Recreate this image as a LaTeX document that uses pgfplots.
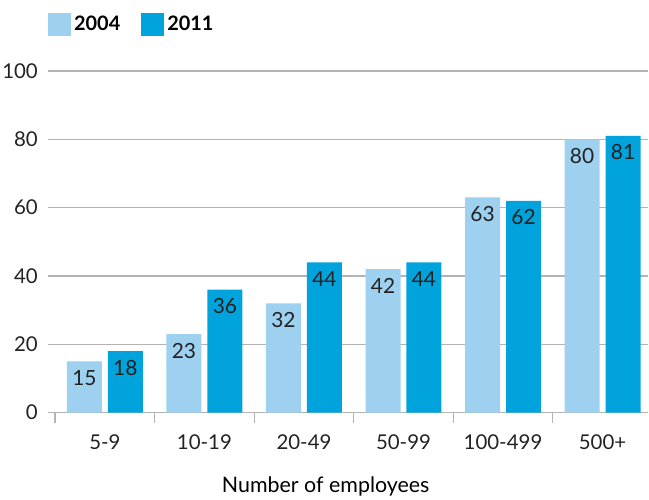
\documentclass[border=0pt]{standalone}
\usepackage{pgfplots}
\pgfplotsset{compat=1.18}
\usepackage{fontspec}
\setmainfont{Lato}
\definecolor{c04}{HTML}{9DD1EF}
\definecolor{c11}{HTML}{00A3DB}
\definecolor{gridc}{HTML}{B4B4B4}
\definecolor{txt}{HTML}{222222}
\begin{document}
\begin{tikzpicture}
\begin{axis}[
  scale only axis, width=601bp, height=342bp,
  xmin=-0.572, xmax=5.46, ymin=0, ymax=100,
  ybar=6bp, bar width=35bp,
  axis x line*=bottom, axis y line*=left,
  y axis line style={draw=none},
  x axis line style={draw=gridc, line width=1.3bp},
  ytick={0,20,...,100}, ymajorgrids,
  major grid style={draw=gridc, line width=1.3bp},
  major tick length=0pt,
  xtick={0,...,5},
  xticklabels={5-9,10-19,20-49,50-99,100-499,500+},
  extra x ticks={-0.5,0.5,1.5,2.5,3.5,4.5},
  extra x tick labels={},
  extra x tick style={major tick length=10bp, tick align=outside, tick style={draw=gridc, line width=1.3bp}},
  ticklabel style={font=\fontsize{20.5}{24}\selectfont, text=txt},
  yticklabel style={anchor=east, inner sep=0pt, xshift=-10bp},
  xticklabel style={anchor=center, inner sep=0pt, yshift=-30bp},
  /pgf/number format/assume math mode=true,
  xlabel={Number of employees},
  xlabel style={at={(axis description cs:0.4626,0)}, anchor=center, yshift=-74bp, font=\fontsize{21.5}{24}\selectfont, text=black},
  nodes near coords,
  every node near coord/.append style={inner sep=0pt, yshift=-24.5bp, font=\fontsize{21}{24}\selectfont, text=txt},
  legend columns=2,
  legend style={at={(axis description cs:0,1)}, anchor=west, yshift=46.5bp, draw=none, fill=none, inner sep=0pt,
    font=\bfseries\fontsize{20}{24}\selectfont, text=black,
    nodes={inner xsep=3bp},
    /tikz/every even column/.append style={column sep=18bp}},
  legend image code/.code={\fill[#1] (0bp,-11.5bp) rectangle (23bp,11.5bp);},
]
\addplot[fill=c04, draw=none] coordinates {(0,15) (1,23) (2,32) (3,42) (4,63) (5,80)};
\addplot[fill=c11, draw=none] coordinates {(0,18) (1,36) (2,44) (3,44) (4,62) (5,81)};
\legend{2004,2011}
\end{axis}
\path ([xshift=-48bp,yshift=-86bp]current axis.south west) rectangle ([yshift=71bp]current axis.north east);
\end{tikzpicture}
\end{document}
